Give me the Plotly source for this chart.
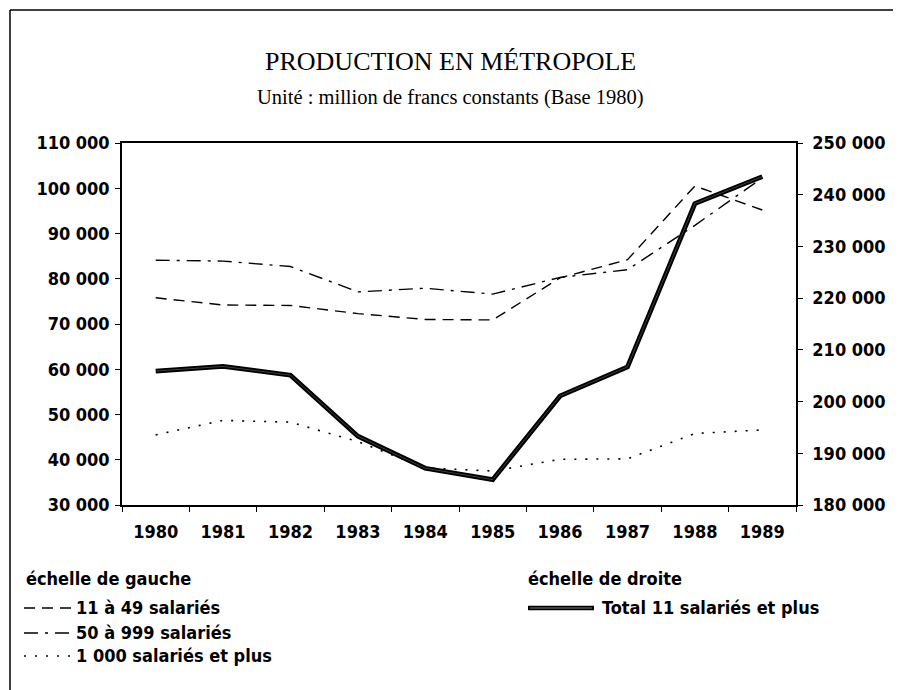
import plotly.graph_objects as go

annees = ["1980", "1981", "1982", "1983", "1984", "1985", "1986", "1987", "1988", "1989"]
# échelle de gauche
t_11_49 = [75800, 74200, 74100, 72300, 71000, 70900, 80200, 84200, 100500, 95200]
t_50_999 = [84100, 83900, 82700, 77100, 77900, 76600, 80300, 82000, 91800, 102300]
t_1000_plus = [45500, 48700, 48300, 44000, 38200, 37500, 40100, 40200, 45800, 46600]
# échelle de droite
total_11_plus = [205900, 206800, 205100, 193300, 187100, 184900, 201100, 206700, 238300, 243500]

SANS = "DejaVu Sans Condensed, DejaVu Sans, sans-serif"
SERIF = "Liberation Serif, Times New Roman, serif"

# page body has an 8px margin; positions below are screen pixels
OFF = 8
W, H = 901 - OFF, 690 - OFF
L, R, T, B = 122, 796, 143, 505   # plot area on screen

def px(x):
    return (x - L) / (R - L)
def py(y):
    return (B - y) / (B - T)

fig = go.Figure()
fig.add_trace(go.Scatter(x=annees, y=t_11_49, mode="lines",
                         line=dict(color="black", width=1.4, dash="11px,7px")))
fig.add_trace(go.Scatter(x=annees, y=t_50_999, mode="lines",
                         line=dict(color="black", width=1.4, dash="14px,7px,3px,7px")))
fig.add_trace(go.Scatter(x=annees, y=t_1000_plus, mode="lines",
                         line=dict(color="black", width=1.6, dash="2px,9px")))
fig.add_trace(go.Scatter(x=annees, y=total_11_plus, mode="lines", yaxis="y2",
                         line=dict(color="black", width=4.8)))
fig.add_trace(go.Scatter(x=annees, y=total_11_plus, mode="lines", yaxis="y2",
                         line=dict(color="#666666", width=0.6)))

axis_font = dict(family=SANS, size=18, color="black", weight="bold")

fig.update_layout(
    width=W, height=H,
    margin=dict(l=L - OFF, r=W - (R - OFF), t=T - OFF, b=H - (B - OFF), pad=0),
    paper_bgcolor="white", plot_bgcolor="white",
    showlegend=False,
    separators=", ",
    xaxis=dict(
        type="category", range=[-0.5, len(annees) - 0.5],
        showline=True, linecolor="black", linewidth=1.5, mirror=True,
        showgrid=False, ticks="outside", ticklen=5, tickcolor="black",
        tickson="boundaries", tickfont=axis_font, ticklabelstandoff=10,
    ),
    yaxis=dict(
        range=[30000, 110000], dtick=10000, tickformat=",d",
        showline=True, linecolor="black", linewidth=1.5,
        showgrid=False, zeroline=False, ticks="outside", ticklen=5,
        tickcolor="black", tickfont=axis_font, ticklabelstandoff=2,
    ),
    yaxis2=dict(
        range=[180000, 250000], dtick=10000, tickformat=",d",
        overlaying="y", side="right",
        showline=True, linecolor="black", linewidth=1.5,
        showgrid=False, zeroline=False, ticks="outside", ticklen=5,
        tickcolor="black", tickfont=axis_font, ticklabelstandoff=6,
    ),
)

def text(t, x, y, size, family=SANS, anchor="left", weight="bold"):
    return dict(text=t, x=px(x), y=py(y), xref="paper", yref="paper",
                xanchor=anchor, yanchor="middle", showarrow=False,
                font=dict(family=family, size=size, color="black", weight=weight))

ann = [
    text("PRODUCTION EN MÉTROPOLE", 450, 62, 26, SERIF, "center", "normal"),
    text("Unité : million de francs constants (Base 1980)", 450, 98, 20.5, SERIF, "center", "normal"),
    text("échelle de gauche", 24, 578, 18),
    text("11 à 49 salariés", 74, 607, 18),
    text("50 à 999 salariés", 74, 632, 18),
    text("1 000 salariés et plus", 74, 655, 18),
    text("échelle de droite", 526, 578, 18),
    text("Total 11 salariés et plus", 600, 607, 18),
]
fig.update_layout(annotations=ann)

def sample(x0, x1, y, **line):
    return dict(type="line", xref="paper", yref="paper",
                x0=px(x0), x1=px(x1), y0=py(y), y1=py(y), line=line)

shapes = [
    # cadre de la figure
    sample(10, 901, 10, color="black", width=1.5),
    dict(type="line", xref="paper", yref="paper", x0=px(10), x1=px(10), y0=py(10), y1=py(700),
         line=dict(color="black", width=1.5)),
    sample(24, 72, 608, color="black", width=1.4, dash="11px,7px"),
    sample(24, 72, 633, color="black", width=1.4, dash="14px,7px,3px,7px"),
    sample(24, 72, 656, color="black", width=1.6, dash="2px,9px"),
    sample(528, 594, 608, color="black", width=4.5),
    sample(530, 592, 608, color="#9a9a9a", width=0.8),
]
fig.update_layout(shapes=shapes)

fig.write_html("out.html")
